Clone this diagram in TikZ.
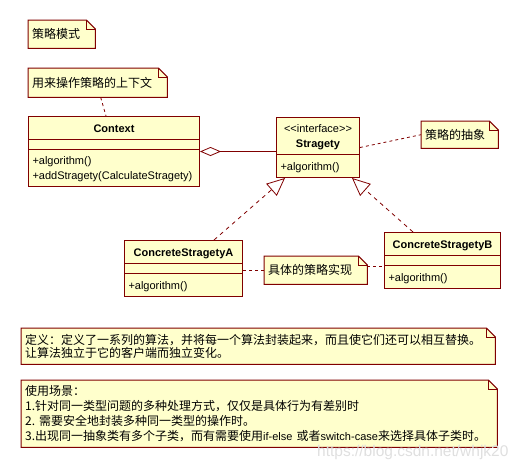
\documentclass[tikz,border=0pt]{standalone}
\usepackage{fontspec}
\setmainfont{Liberation Sans}
\newfontfamily\cjk{Noto Sans CJK SC}
\usetikzlibrary{arrows.meta,shapes.multipart,backgrounds}
\definecolor{umlline}{RGB}{128,0,0}
\definecolor{umlfill}{RGB}{255,255,204}
\newcommand\cname[1]{\rule[-7pt]{0pt}{22pt}\textbf{#1}}
\newcommand\cgap{\rule{0pt}{9pt}}
\newcommand\cop[1]{\rule[-7pt]{0pt}{22pt}#1}
\newcommand\lat[1]{\mbox{\rmfamily\fontsize{11}{15}\selectfont #1}}
\begin{document}
\begin{tikzpicture}[x=1pt,y=-1pt,
	umlclass/.style={draw=umlline,fill=umlfill,line width=1pt,rectangle split,rectangle split parts=3,
		rectangle split part align={center,left},inner xsep=4pt,inner ysep=0pt,anchor=north west,
		font=\fontsize{11}{15}\selectfont},
	note/.style={font=\cjk\fontsize{12}{14}\selectfont,align=left,inner xsep=4pt,inner ysep=0pt,anchor=north west},
	notebox/.style={draw=umlline,fill=umlfill,line width=1pt},
	notelink/.style={draw=umlline,line width=0.8pt,dash pattern=on 3pt off 3pt},
	realize/.style={draw=umlline,line width=0.8pt,dash pattern=on 4pt off 4pt,-{Triangle[length=18pt,width=16pt,fill=white]}},
	aggregate/.style={draw=umlline,line width=0.8pt,{Diamond[length=21pt,width=9pt,fill=white]}-}]
	\useasboundingbox (0,0) rectangle (521,467);
	
	% notes
	\node[note,text width=59pt,minimum height=28pt] (title) at (28,20) {策略模式};
	\node[note,text width=131pt,minimum height=29pt] (ctxnote) at (28,68) {用来操作策略的上下文};
	\node[note,text width=69pt,minimum height=27pt] (absnote) at (421,121) {策略的抽象};
	\node[note,text width=95pt,minimum height=28pt] (implnote) at (264,256) {具体的策略实现};
	\node[note,text width=466pt,minimum height=36pt,font=\cjk\fontsize{12}{13}\selectfont] (defnote) at (21,328)
		{定义：定义了一系列的算法，并将每一个算法封装起来，而且使它们还可以相互替换。\\让算法独立于它的客户端而独立变化。};
	\node[note,text width=468pt,minimum height=67pt,font=\cjk\fontsize{12}{15}\selectfont] (usenote) at (21,380)
		{使用场景：\\1.针对同一类型问题的多种处理方式，仅仅是具体行为有差别时\\2.~需要安全地封装多种同一类型的操作时。\\3.出现同一抽象类有多个子类，而有需要使用\lat{if-else}~或者\lat{switch-case}来选择具体子类时。};
	
	% classes
	\node[umlclass,minimum width=171pt] (context) at (28,116)
		{\cname{Context}\nodepart{two}\cgap\nodepart{three}\begin{tabular}{@{}l@{}}\rule{0pt}{14pt}+algorithm()\\+addStragety(CalculateStragety)\rule[-7pt]{0pt}{0pt}\end{tabular}};
	\node[umlclass,rectangle split parts=2,minimum width=83pt] (strategy) at (276,117)
		{\begin{tabular}{@{}c@{}}\rule{0pt}{14pt}<\kern0pt<interface>\kern0pt>\\\textbf{Stragety}\rule[-7pt]{0pt}{0pt}\end{tabular}\nodepart{two}\cop{+algorithm()}};
	\node[umlclass,minimum width=118pt] (concA) at (124,240)
		{\cname{ConcreteStragetyA}\nodepart{two}\cgap\nodepart{three}\cop{+algorithm()}};
	\node[umlclass,minimum width=116pt] (concB) at (384,232)
		{\cname{ConcreteStragetyB}\nodepart{two}\cgap\nodepart{three}\cop{+algorithm()}};
	
	\begin{scope}[on background layer]
		\foreach \n in {title,ctxnote,absnote,implnote,defnote,usenote}{
			\filldraw[notebox] (\n.north west) -- ([xshift=-9pt]\n.north east) -- ([yshift=-9pt]\n.north east)
				-- (\n.south east) -- (\n.south west) -- cycle;
			\draw[notebox,fill=none] ([xshift=-9pt]\n.north east) |- ([yshift=-9pt]\n.north east);}
	\end{scope}
	
	% connectors
	\draw[aggregate] (context.east) -- (context.east -| strategy.west);
	\draw[realize] ([xshift=-29pt]concA.north east) -- ([xshift=9pt]strategy.south west);
	\draw[realize] ([xshift=29pt]concB.north west) -- ([xshift=-8pt]strategy.south east);
	\draw[notelink] ([xshift=3pt]ctxnote.south) -- ([xshift=-8pt]context.north);
	\draw[notelink] (strategy.east) -- (absnote.west);
	\draw[notelink] (implnote.west) -- (implnote.west -| concA.east);
	\draw[notelink] ([yshift=4pt]implnote.east) -- ([yshift=4pt]implnote.east -| concB.west);
	
	\node[font=\fontsize{15.5}{18}\selectfont,text=gray!25,anchor=east] (mark) at (512,452) {https://blog.csdn.net/whjk20};
\end{tikzpicture}
\end{document}
